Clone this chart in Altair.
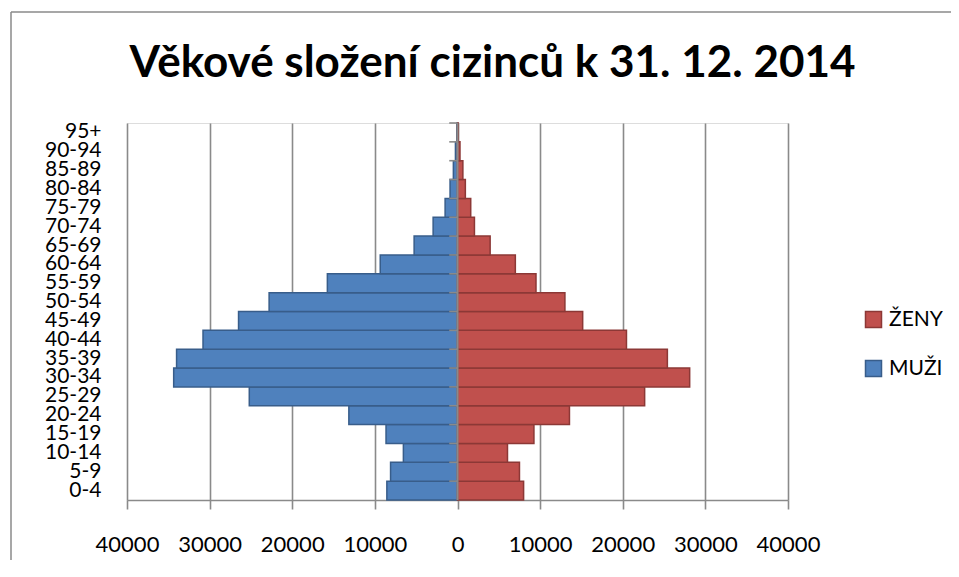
import altair as alt
import pandas as pd

# ---- data ----
ages = ["0-4", "5-9", "10-14", "15-19", "20-24", "25-29", "30-34", "35-39", "40-44", "45-49",
        "50-54", "55-59", "60-64", "65-69", "70-74", "75-79", "80-84", "85-89", "90-94", "95+"]
muzi = [8550, 8100, 6550, 8650, 13150, 25200, 34350, 34000, 30800, 26500,
        22800, 15750, 9350, 5250, 2950, 1500, 900, 500, 250, 80]
zeny = [8000, 7500, 6050, 9250, 13550, 22650, 28100, 25400, 20450, 15150,
        13000, 9500, 7000, 3950, 2050, 1600, 950, 650, 300, 100]
x_ticks = [-40000, -30000, -20000, -10000, 0, 10000, 20000, 30000, 40000]
series = ["ŽENY", "MUŽI"]
fill_colors = ["#C0504D", "#4F81BD"]
stroke_colors = ["#8C3836", "#385D8A"]
title_text = "Věkové složení cizinců k 31. 12. 2014"

rows = []
for a, m, z in zip(ages, muzi, zeny):
    rows.append({"age": a, "sex": "MUŽI", "value": -m})
    rows.append({"age": a, "sex": "ŽENY", "value": z})
df = pd.DataFrame(rows)

order = ages[::-1]
FONT = "Lato"
GRID = "#8a8a8a"

y_scale = alt.Scale(domain=order, paddingInner=0, paddingOuter=0)
x_scale = alt.Scale(domain=[-40000, 40000], nice=False, zero=False)

x_axis = alt.Axis(values=x_ticks, labelExpr="format(abs(datum.value), 'd')",
                  grid=True, gridColor=GRID, gridWidth=1.6,
                  domainColor=GRID, domainWidth=1.6,
                  tickColor=GRID, tickWidth=1.6, tickSize=9,
                  labelPadding=25, labelFont=FONT, labelFontSize=22,
                  labelColor="black", labelOverlap=False, labelFlush=False,
                  title=None)
y_axis = alt.Axis(ticks=False, domain=False, grid=False, labelPadding=26,
                  labelFont=FONT, labelFontSize=21, labelColor="black",
                  labelOverlap=False, title=None)

legend = alt.Legend(title=None, orient="none", legendX=736, legendY=186,
                    symbolType="square", symbolSize=256, symbolStrokeWidth=1.5,
                    labelFont=FONT, labelFontSize=21, labelColor="black",
                    rowPadding=26, labelOffset=5, padding=0)

bars = alt.Chart(df).mark_bar(strokeWidth=1.5).encode(
    x=alt.X("value:Q", title=None, scale=x_scale, axis=x_axis),
    y=alt.Y("age:N", sort=order, title=None, scale=y_scale, axis=y_axis),
    fill=alt.Fill("sex:N", scale=alt.Scale(domain=series, range=fill_colors), legend=legend),
    stroke=alt.Stroke("sex:N", scale=alt.Scale(domain=series, range=stroke_colors), legend=legend),
)

center = alt.Chart(pd.DataFrame({"zero": [0]})).mark_rule(color=GRID, strokeWidth=2).encode(
    x=alt.X("zero:Q", title=None, scale=x_scale, axis=x_axis)
)

ticks = alt.Chart(pd.DataFrame({"age": ages})).mark_rule(color=GRID, strokeWidth=1.6).encode(
    y=alt.Y("age:N", sort=order, title=None, scale=y_scale, axis=y_axis, bandPosition=0),
    x=alt.datum(-1000),
    x2=alt.datum(0),
)

# chart frame (left and top edges; the rest lies outside the window)
frame_left = alt.Chart(pd.DataFrame({"f": [0]})).mark_rule(
    color="#8a8a8a", strokeWidth=1.5
).encode(x=alt.value(-116), y=alt.value(-111), y2=alt.value(600))
frame_top = alt.Chart(pd.DataFrame({"f": [0]})).mark_rule(
    color="#8a8a8a", strokeWidth=1.5
).encode(x=alt.value(-116), x2=alt.value(900), y=alt.value(-111))

chart = alt.layer(bars, center, ticks, frame_left, frame_top).properties(
    width=661,
    height=377,
    title=alt.Title(title_text, font=FONT, fontSize=44, fontWeight="bold",
                    color="black", anchor="middle", dx=35, offset=-75),
    autosize=alt.AutoSizeParams(type="none"),
    padding={"left": 119, "top": 115, "right": 163, "bottom": 60},
).configure_view(
    fill="#E6E6E6", strokeOpacity=0
).configure(background="white")

chart.save("out.html", embed_options={"renderer": "svg", "actions": False})
